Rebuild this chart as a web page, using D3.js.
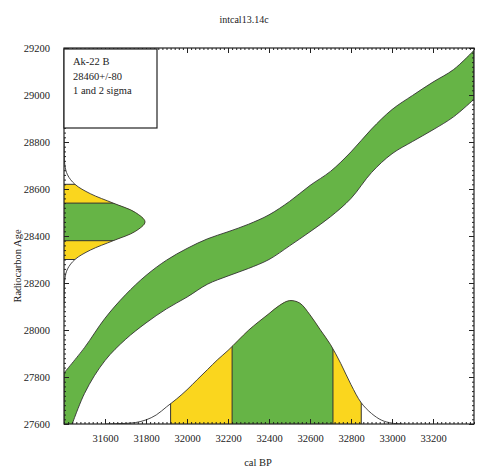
<!DOCTYPE html>
<html>
<head>
<meta charset="utf-8">
<script src="https://cdn.jsdelivr.net/npm/d3@7"></script>
<style>
body { margin: 0; background: #fff; }
svg text { font-family: "Liberation Serif", "DejaVu Serif", serif; fill: #222; }
.axis path.domain { display: none; }
.axis line { stroke: #222; stroke-width: 1; }
.axis text { font-size: 10.5px; }
</style>
</head>
<body>
<svg width="482" height="475"></svg>
<script>
// calibration curve (intcal13)
const calBP      = [31400, 31500, 31600, 31700, 31800, 31900, 32000, 32100, 32200, 32300, 32400,
                    32500, 32600, 32700, 32800, 32900, 33000, 33100, 33200, 33300, 33400];
const curveUpper = [27817, 27925, 28050, 28150, 28232, 28297, 28347, 28388, 28418, 28450, 28490,
                    28547, 28615, 28675, 28758, 28855, 28938, 28998, 29055, 29108, 29190];
const curveLower = [27500, 27730, 27870, 27960, 28030, 28090, 28140, 28195, 28230, 28262, 28300,
                    28358, 28418, 28482, 28560, 28670, 28750, 28802, 28852, 28907, 28982];

// calibrated probability (relative)
const calProbBP = [31600, 31650, 31700, 31750, 31800, 31850, 31900, 31950, 32000, 32050, 32100,
                   32150, 32200, 32250, 32300, 32350, 32400, 32450, 32500, 32550, 32600, 32650,
                   32700, 32750, 32800, 32850, 32900, 32950, 33000, 33050];
const calProb   = [0, 0.002, 0.005, 0.012, 0.033, 0.073, 0.138, 0.203, 0.276, 0.358, 0.439,
                   0.52, 0.593, 0.675, 0.756, 0.825, 0.89, 0.955, 0.995, 0.975, 0.88, 0.76,
                   0.64, 0.488, 0.317, 0.171, 0.085, 0.03, 0.007, 0];

// radiocarbon age probability (relative)
const c14Age  = [28100, 28140, 28180, 28220, 28260, 28300, 28340, 28380, 28420, 28460,
                 28500, 28540, 28580, 28620, 28660, 28700, 28740, 28780, 28820];
const c14Prob = [0, 0.001, 0.003, 0.011, 0.044, 0.135, 0.325, 0.607, 0.882, 1,
                 0.882, 0.607, 0.325, 0.135, 0.044, 0.011, 0.003, 0.001, 0];

const c14OneSigma = [28380, 28540];
const c14TwoSigma = [28300, 28620];
const calOneSigma = [32220, 32712];
const calTwoSigma = [31920, 32850];

const xTicks = [31600, 31800, 32000, 32200, 32400, 32600, 32800, 33000, 33200];
const yTicks = [27600, 27800, 28000, 28200, 28400, 28600, 28800, 29000, 29200];
const legendLines = ["Ak-22 B", "28460+/-80", "1 and 2 sigma"];
const title = "intcal13.14c";

const green = "#66b446", yellow = "#fad61e", edge = "#333";
const L = 64, R = 474, T = 48, B = 424;

const svg = d3.select("svg");
const x = d3.scaleLinear().domain([31400, 33400]).range([L, R]);
const y = d3.scaleLinear().domain([27600, 29200]).range([B, T]);
const pCal = d3.scaleLinear().domain([0, 1]).range([B, B - 124]);
const pAge = d3.scaleLinear().domain([0, 1]).range([L, L + 81]);
const smooth = d3.curveCatmullRom.alpha(0.5);

const defs = svg.append("defs");
defs.append("clipPath").attr("id", "plot").append("rect")
  .attr("x", L).attr("y", T).attr("width", R - L).attr("height", B - T);

const plot = svg.append("g").attr("clip-path", "url(#plot)");

// calibration band
const band = d3.area()
  .x((d, i) => x(calBP[i]))
  .y0((d, i) => y(curveLower[i]))
  .y1((d, i) => y(curveUpper[i]))
  .curve(smooth);
plot.append("path").attr("d", band(calBP))
  .attr("fill", green).attr("stroke", edge).attr("stroke-width", 0.9);

// calibrated distribution on the x axis
const calArea = d3.area()
  .x((d, i) => x(calProbBP[i]))
  .y0(B)
  .y1((d, i) => pCal(calProb[i]))
  .curve(smooth);
defs.append("clipPath").attr("id", "calclip").append("path").attr("d", calArea(calProbBP));
const calG = plot.append("g").attr("clip-path", "url(#calclip)");
calG.append("rect").attr("x", x(calTwoSigma[0])).attr("width", x(calTwoSigma[1]) - x(calTwoSigma[0]))
  .attr("y", T).attr("height", B - T).attr("fill", yellow);
calG.append("rect").attr("x", x(calOneSigma[0])).attr("width", x(calOneSigma[1]) - x(calOneSigma[0]))
  .attr("y", T).attr("height", B - T).attr("fill", green);
calG.selectAll("line").data(calOneSigma.concat(calTwoSigma)).join("line")
  .attr("x1", d => x(d)).attr("x2", d => x(d)).attr("y1", T).attr("y2", B)
  .attr("stroke", edge).attr("stroke-width", 1);
plot.append("path").attr("d", d3.line()
    .x((d, i) => x(calProbBP[i])).y((d, i) => pCal(calProb[i])).curve(smooth)(calProbBP))
  .attr("fill", "none").attr("stroke", edge).attr("stroke-width", 0.9);

// radiocarbon age distribution on the y axis
const ageArea = d3.area()
  .y((d, i) => y(c14Age[i]))
  .x0(L)
  .x1((d, i) => pAge(c14Prob[i]))
  .curve(smooth);
defs.append("clipPath").attr("id", "ageclip").append("path").attr("d", ageArea(c14Age));
const ageG = plot.append("g").attr("clip-path", "url(#ageclip)");
ageG.append("rect").attr("y", y(c14TwoSigma[1])).attr("height", y(c14TwoSigma[0]) - y(c14TwoSigma[1]))
  .attr("x", L).attr("width", R - L).attr("fill", yellow);
ageG.append("rect").attr("y", y(c14OneSigma[1])).attr("height", y(c14OneSigma[0]) - y(c14OneSigma[1]))
  .attr("x", L).attr("width", R - L).attr("fill", green);
ageG.selectAll("line").data(c14OneSigma.concat(c14TwoSigma)).join("line")
  .attr("y1", d => y(d)).attr("y2", d => y(d)).attr("x1", L).attr("x2", R)
  .attr("stroke", edge).attr("stroke-width", 1);
plot.append("path").attr("d", d3.line()
    .y((d, i) => y(c14Age[i])).x((d, i) => pAge(c14Prob[i])).curve(smooth)(c14Age))
  .attr("fill", "none").attr("stroke", edge).attr("stroke-width", 0.9);

// axes: major ticks every 200, minor every 20, all pointing inward
const xMinor = d3.range(31400, 33401, 20);
const yMinor = d3.range(27600, 29201, 20);

svg.append("g").attr("class", "axis").attr("transform", "translate(0," + B + ")")
  .call(d3.axisBottom(x).tickValues(xMinor).tickSize(-2).tickFormat(""));
svg.append("g").attr("class", "axis").attr("transform", "translate(0," + B + ")")
  .call(d3.axisBottom(x).tickValues(xTicks).tickSize(-5).tickPadding(11).tickFormat(d3.format("d")));
svg.append("g").attr("class", "axis").attr("transform", "translate(0," + T + ")")
  .call(d3.axisTop(x).tickValues(xMinor).tickSize(-2).tickFormat(""));
svg.append("g").attr("class", "axis").attr("transform", "translate(0," + T + ")")
  .call(d3.axisTop(x).tickValues(xTicks).tickSize(-5).tickFormat(""));

svg.append("g").attr("class", "axis").attr("transform", "translate(" + L + ",0)")
  .call(d3.axisLeft(y).tickValues(yMinor).tickSize(-2).tickFormat(""));
svg.append("g").attr("class", "axis").attr("transform", "translate(" + L + ",0)")
  .call(d3.axisLeft(y).tickValues(yTicks).tickSize(-5).tickPadding(14).tickFormat(d3.format("d")));
svg.append("g").attr("class", "axis").attr("transform", "translate(" + R + ",0)")
  .call(d3.axisRight(y).tickValues(yMinor).tickSize(-2).tickFormat(""));
svg.append("g").attr("class", "axis").attr("transform", "translate(" + R + ",0)")
  .call(d3.axisRight(y).tickValues(yTicks).tickSize(-5).tickFormat(""));

svg.append("rect").attr("x", L).attr("y", T).attr("width", R - L).attr("height", B - T)
  .attr("fill", "none").attr("stroke", "#222").attr("stroke-width", 1.2);

// legend box
svg.append("rect").attr("x", L).attr("y", T + 1).attr("width", 93).attr("height", 79)
  .attr("fill", "#fff").attr("stroke", "#222").attr("stroke-width", 1.2);
svg.append("g").selectAll("text").data(legendLines).join("text")
  .attr("x", L + 9).attr("y", (d, i) => 65 + i * 14.5)
  .attr("font-size", "10.5px").text(d => d);

// titles
svg.append("text").attr("x", 244).attr("y", 23).attr("text-anchor", "middle")
  .attr("font-size", "10px").text(title);
svg.append("text").attr("x", 258).attr("y", 466).attr("text-anchor", "middle")
  .attr("font-size", "10.5px").text("cal BP");
svg.append("text").attr("transform", "translate(21,266) rotate(-90)").attr("text-anchor", "middle")
  .attr("font-size", "10.5px").text("Radiocarbon Age");
</script>
</body>
</html>
